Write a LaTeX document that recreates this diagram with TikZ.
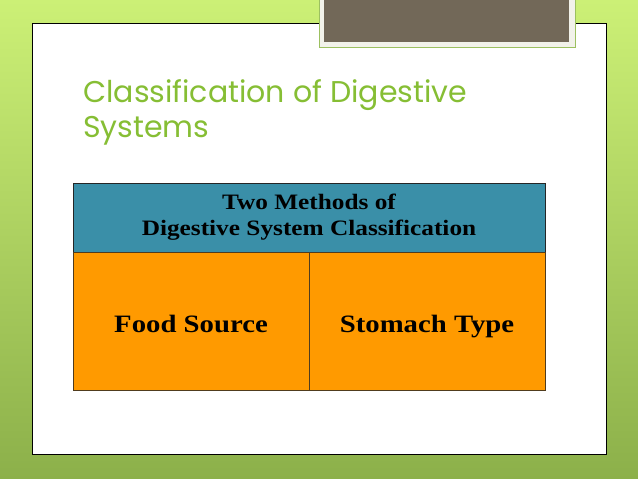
\documentclass[tikz,border=0pt]{standalone}
\usepackage{fontspec}
\setmainfont{Liberation Serif}
\newfontfamily\titlefont{Poppins}
\newfontfamily\tablefont[FakeStretch=1.15]{Liberation Serif}
\usepackage{xcolor}
\usepackage{tikz}
\usetikzlibrary{positioning, calc}
\definecolor{slidetop}{RGB}{204, 240, 118}
\definecolor{slidebottom}{RGB}{140, 176, 74}
\definecolor{titlegreen}{RGB}{134, 190, 52}
\definecolor{tabgray}{RGB}{114, 104, 88}
\definecolor{tabcream}{RGB}{242, 242, 234}
\definecolor{tabedge}{RGB}{156, 192, 96}
\definecolor{headteal}{RGB}{58, 143, 168}
\definecolor{cellorange}{RGB}{255, 154, 0}
\definecolor{celledge}{RGB}{80, 60, 30}
\tikzstyle{header} = [
    rectangle,
    minimum width=472pt,
    minimum height=69pt,
    inner sep=0pt,
    align=center,
    draw=black!85,
    line width=0.9pt,
    fill=headteal,
    font=\tablefont\fontsize{22}{26}\selectfont\bfseries
]
\tikzstyle{cell} = [
    rectangle,
    minimum width=236pt,
    minimum height=138pt,
    inner sep=0pt,
    text height=22pt,
    text depth=0pt,
    draw=celledge,
    line width=0.9pt,
    fill=cellorange,
    font=\tablefont\fontsize{25}{30}\selectfont\bfseries
]
\tikzstyle{titleline} = [
    anchor=base west,
    inner sep=0pt,
    text=titlegreen,
    font=\titlefont\fontsize{30}{35}\selectfont
]

\begin{document}
\begin{tikzpicture}[x=1pt, y=-1pt]
        \useasboundingbox (0,0) rectangle (638,479);
        % Slide background
        \fill[top color=slidetop, bottom color=slidebottom] (0,0) rectangle (638,479);
        \fill[white, draw=black, line width=1pt] (32,23) rectangle (606,454);
        
        % Tab at the top
        \fill[tabcream, draw=tabedge, line width=0.8pt] (319,-2) rectangle (575,47);
        \fill[tabgray] (324,-2) rectangle (569,42);
        
        % Title
        \node[titleline] (title1) at (83,102) {Classification of Digestive};
        \node[titleline] (title2) at (83,137) {Systems};
        
        % Table
        \node[header] (methods) at (309,217.5) {Two Methods of\\Digestive System Classification};
        \node[cell] (food) at (191,321) {Food Source};
        \node[cell] (stomach) at (427,321) {Stomach Type};
    \end{tikzpicture}
\end{document}
